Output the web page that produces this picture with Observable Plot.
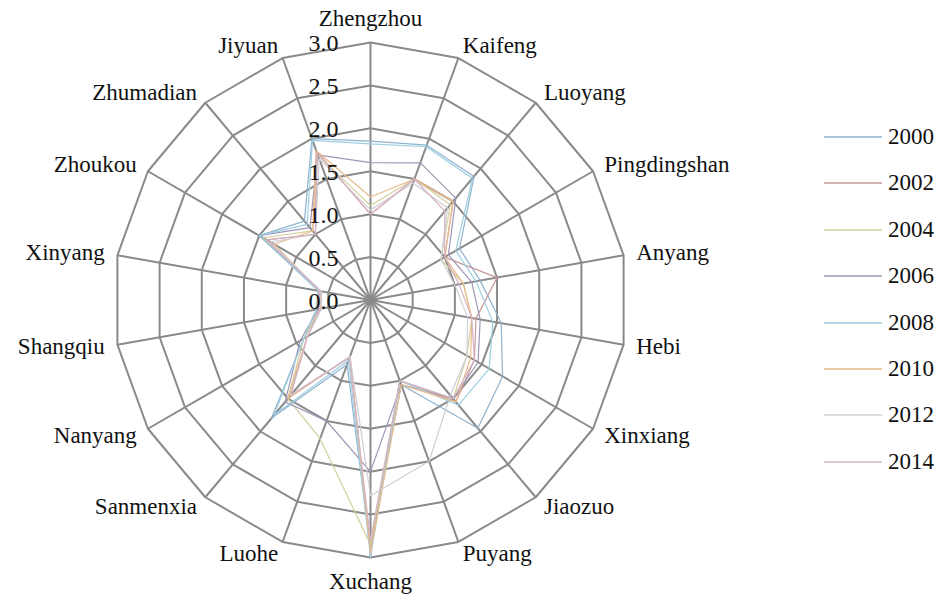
<!DOCTYPE html>
<html><head><meta charset="utf-8">
<script src="https://cdn.jsdelivr.net/npm/d3@7"></script>
<script src="https://cdn.jsdelivr.net/npm/@observablehq/plot@0.6"></script>
<style>
body{margin:0;background:#fff;}
#wrap{position:relative;width:943px;height:599px;overflow:hidden;}
#chart{position:absolute;left:0;top:0;}
.item{position:absolute;left:822px;height:30px;display:flex;align-items:center;font-family:"Liberation Serif",serif;font-size:23px;color:#111;}
.item svg{margin-right:6px;}
</style></head><body>
<div id="wrap"><div id="chart"></div><div id="legend"></div></div>
<script>
const cities = ["Zhengzhou","Kaifeng","Luoyang","Pingdingshan","Anyang","Hebi","Xinxiang","Jiaozuo","Puyang","Xuchang","Luohe","Sanmenxia","Nanyang","Shangqiu","Xinyang","Zhoukou","Zhumadian","Jiyuan"];
const years = ["2000","2002","2004","2006","2008","2010","2012","2014"];
const v2000 = [1.85,1.92,1.88,1.20,1.30,1.55,1.78,1.95,1.05,2.90,0.80,1.80,0.90,0.60,0.60,1.50,1.20,2.00];
const v2002 = [1.00,1.50,1.50,1.00,1.50,1.25,1.40,1.55,1.00,2.95,0.70,1.50,0.85,0.60,0.62,1.40,1.00,1.85];
const v2004 = [1.10,1.50,1.45,0.95,1.10,1.20,1.30,1.50,1.00,2.85,1.72,1.50,0.90,0.60,0.60,1.45,1.05,1.80];
const v2006 = [1.60,1.70,1.55,1.05,1.20,1.30,1.45,1.50,1.05,2.00,1.50,1.55,0.95,0.62,0.60,1.50,1.10,1.80];
const v2008 = [1.82,1.90,1.85,1.15,1.25,1.45,1.60,1.60,1.00,3.00,0.75,1.75,0.90,0.65,0.62,1.50,1.15,1.98];
const v2010 = [1.20,1.50,1.50,1.00,1.10,1.20,1.35,1.55,1.05,2.95,0.70,1.50,0.85,0.60,0.60,1.30,1.05,1.85];
const v2012 = [1.05,1.45,1.40,0.95,1.00,1.15,1.30,1.45,2.00,2.28,0.70,1.45,0.85,0.58,0.58,1.35,1.00,1.75];
const v2014 = [1.00,1.50,1.35,1.00,1.05,1.20,1.40,1.50,1.00,2.80,0.72,1.45,0.85,0.60,0.60,1.40,1.00,1.82];
const seriesValues = [v2000,v2002,v2004,v2006,v2008,v2010,v2012,v2014];
const colors = ["#8fb3cf","#c99a9a","#d2cf9c","#9f97b8","#9ccfe0","#eabb8a","#cfcfd6","#d6b3c4"];
const ringValues = [0.5,1.0,1.5,2.0,2.5,3.0];
const tickValues = [0.0,0.5,1.0,1.5,2.0,2.5,3.0];
const tickLabels = ["0.0","0.5","1.0","1.5","2.0","2.5","3.0"];

const n = cities.length;
const ang = i => (i * 2 * Math.PI) / n;
const px = (i, v) => v * Math.sin(ang(i));
const py = (i, v) => v * Math.cos(ang(i));

const seriesRows = [];
years.forEach((yr, s) => {
  for (let k = 0; k <= n; k++) {
    const i = k % n, v = seriesValues[s][i];
    seriesRows.push({year: yr, city: cities[i], value: v, x: px(i, v), y: py(i, v)});
  }
});
const ringRows = [];
ringValues.forEach(r => {
  for (let k = 0; k <= n; k++) { const i = k % n; ringRows.push({ring: r, x: px(i, r), y: py(i, r)}); }
});
const maxV = 3.0, labelR = 3.15;
const spokeRows = cities.map((c, i) => ({city: c, i, x2: px(i, maxV), y2: py(i, maxV), lx: px(i, labelR), ly: py(i, labelR), s: Math.sin(ang(i))}));
const FF = "'Liberation Serif', 'Times New Roman', serif";

const chart = Plot.plot({
  width: 943, height: 599,
  marginLeft: 113, marginRight: 316, marginTop: 42, marginBottom: 42,
  x: {domain: [-3, 3], axis: null},
  y: {domain: [-3, 3], axis: null},
  color: {domain: years, range: colors},
  style: {fontFamily: FF, background: "#fff", overflow: "visible"},
  marks: [
    Plot.line(ringRows, {x: "x", y: "y", z: "ring", stroke: "#8a8a8a", strokeWidth: 2}),
    Plot.link(spokeRows, {x1: () => 0, y1: () => 0, x2: "x2", y2: "y2", stroke: "#8a8a8a", strokeWidth: 2}),
    Plot.line(seriesRows, {x: "x", y: "y", z: "year", stroke: "year", strokeWidth: 1.2}),
    Plot.text(tickValues, {x: () => 0, y: d => d, text: (d, i) => tickLabels[i], textAnchor: "end", dx: -32, dy: 1, fontSize: 24, fontFamily: FF, fill: "#111"}),
    Plot.text(spokeRows.filter(d => d.s > 0.1), {x: "lx", y: "ly", text: "city", textAnchor: "start", fontSize: 23, fontFamily: FF, fill: "#111"}),
    Plot.text(spokeRows.filter(d => d.s < -0.1), {x: "lx", y: "ly", text: "city", textAnchor: "end", fontSize: 23, fontFamily: FF, fill: "#111"}),
    Plot.text(spokeRows.filter(d => Math.abs(d.s) <= 0.1 && d.y2 > 0), {x: "lx", y: "ly", text: "city", textAnchor: "middle", lineAnchor: "bottom", dy: -4, fontSize: 23, fontFamily: FF, fill: "#111"}),
    Plot.text(spokeRows.filter(d => Math.abs(d.s) <= 0.1 && d.y2 < 0), {x: "lx", y: "ly", text: "city", textAnchor: "middle", lineAnchor: "top", dy: 2, fontSize: 23, fontFamily: FF, fill: "#111"})
  ]
});
document.getElementById("chart").appendChild(chart);

const legend = document.getElementById("legend");
years.forEach((yr, s) => {
  const div = document.createElement("div");
  div.className = "item";
  div.style.top = (137 + s * 46.4 - 15) + "px";
  div.innerHTML = `<svg width="60" height="4"><line x1="2" y1="2" x2="60" y2="2" stroke="${colors[s]}" stroke-width="1.6"/></svg><span>${yr}</span>`;
  legend.appendChild(div);
});
</script>
</body></html>
